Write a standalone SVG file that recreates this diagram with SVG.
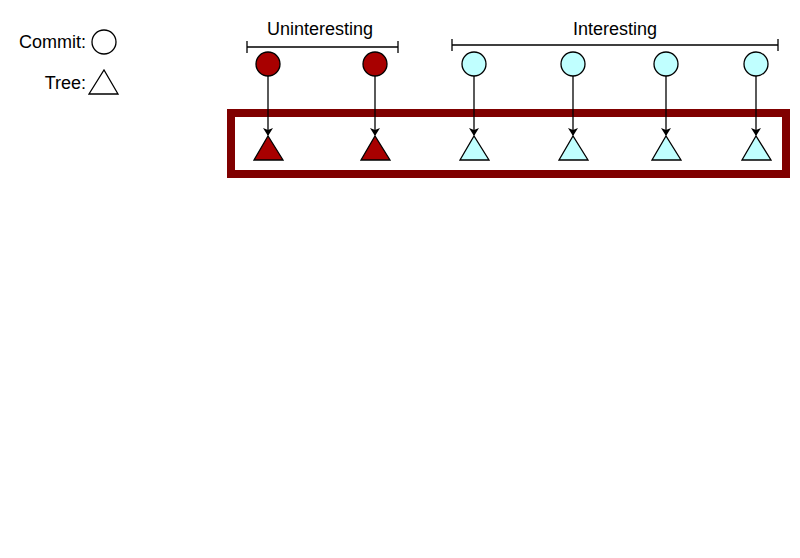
<svg xmlns="http://www.w3.org/2000/svg" width="800" height="558" viewBox="0 0 800 558">
<style>
text{font-family:"Liberation Sans",Arial,sans-serif;font-size:18px;fill:#000}
.c{stroke:#000;stroke-width:1.3}
.u{fill:#a80000}.i{fill:#c0ffff}.w{fill:#fff}
.ln{stroke:#000;stroke-width:1.3;fill:none}
</style>
<defs><marker id="a" markerWidth="8" markerHeight="10" refX="7" refY="5" orient="auto" markerUnits="userSpaceOnUse"><path d="M0,0 L8,5 L0,10 L2,5 Z" fill="#000"/></marker></defs>
<rect width="800" height="558" fill="#fff"/>
<g id="legend">
<text x="86" y="48" text-anchor="end">Commit:</text>
<circle class="c w" cx="104" cy="42" r="12"/>
<text x="86" y="89" text-anchor="end">Tree:</text>
<polygon class="c w" points="89,94 118,94 104,70"/>
</g>
<g id="frame"><rect x="231" y="113" width="555" height="61" fill="none" stroke="#800000" stroke-width="8"/></g>
<g id="labels">
<text x="320" y="35" text-anchor="middle">Uninteresting</text>
<path class="ln" d="M247,47 H398 M247,41 V53 M398,41 V53"/>
<text x="615" y="35" text-anchor="middle">Interesting</text>
<path class="ln" d="M452,45 H778 M452,39 V51 M778,39 V51"/>
</g>
<g id="connectors" class="ln">
<line x1="268" y1="76" x2="268" y2="135" marker-end="url(#a)"/>
<line x1="375" y1="76" x2="375" y2="135" marker-end="url(#a)"/>
<line x1="474" y1="76" x2="474" y2="135" marker-end="url(#a)"/>
<line x1="573" y1="76" x2="573" y2="135" marker-end="url(#a)"/>
<line x1="666" y1="76" x2="666" y2="135" marker-end="url(#a)"/>
<line x1="756" y1="76" x2="756" y2="135" marker-end="url(#a)"/>
</g>
<g id="commits">
<circle class="c u" cx="268" cy="64" r="12"/>
<circle class="c u" cx="375" cy="64" r="12"/>
<circle class="c i" cx="474" cy="64" r="12"/>
<circle class="c i" cx="573" cy="64" r="12"/>
<circle class="c i" cx="666" cy="64" r="12"/>
<circle class="c i" cx="756" cy="64" r="12"/>
</g>
<g id="trees">
<polygon class="c u" points="254,160 283,160 268,136"/>
<polygon class="c u" points="361,160 390,160 375,136"/>
<polygon class="c i" points="460,160 489,160 474,136"/>
<polygon class="c i" points="559,160 588,160 573,136"/>
<polygon class="c i" points="652,160 681,160 666,136"/>
<polygon class="c i" points="742,160 771,160 756,136"/>
</g>
</svg>
